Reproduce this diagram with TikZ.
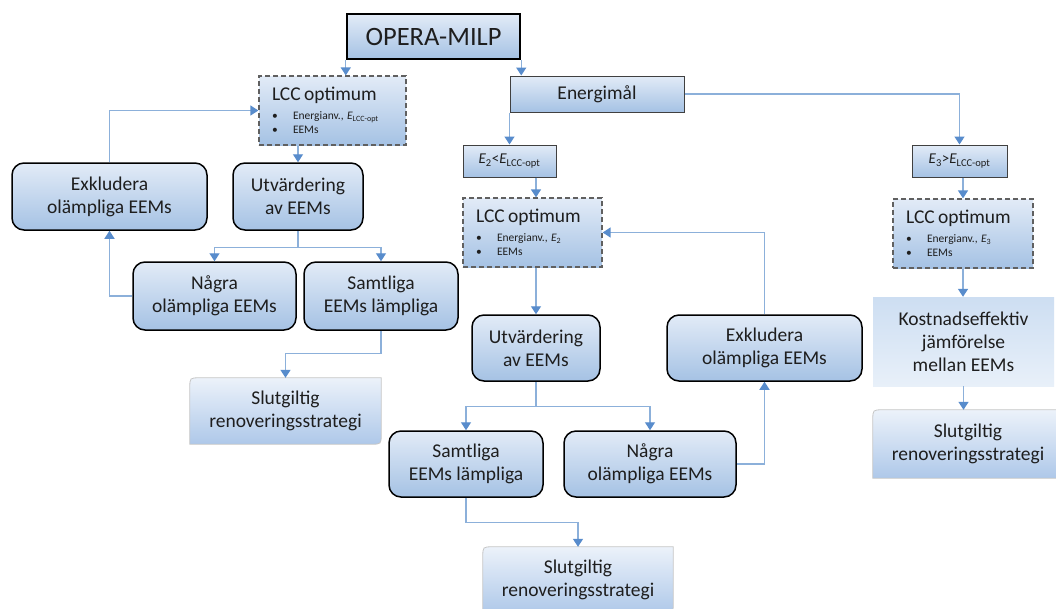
\documentclass[tikz,border=0pt]{standalone}
\usepackage{fontspec}
\setmainfont{Carlito}
\usetikzlibrary{arrows.meta}
\pgfdeclarelayer{background}
\pgfsetlayers{background,main}
\definecolor{txt}{RGB}{30,30,30}
\definecolor{fillTop}{RGB}{226,235,247}
\definecolor{fillBot}{RGB}{165,194,228}
\definecolor{slutTop}{RGB}{236,242,250}
\definecolor{slutBot}{RGB}{174,200,233}
\definecolor{kostTop}{RGB}{205,222,242}
\definecolor{kostBot}{RGB}{232,240,249}
\definecolor{lineblue}{RGB}{140,176,218}
\definecolor{tipblue}{RGB}{88,140,204}
\definecolor{frame}{RGB}{64,64,64}
\definecolor{dashframe}{RGB}{96,96,96}
\setlength{\parindent}{0pt}

\newcommand{\boxfont}{\fontsize{19.5}{23}\selectfont}
\newcommand{\lccitem}{\makebox[21pt][l]{\textbullet}}
\newcommand{\lccbody}[1]{%
  {\fontsize{19.5}{19.5}\selectfont LCC optimum\par}%
  {\fontsize{11.5}{19}\selectfont\lccitem Energianv., #1\par}%
  {\fontsize{11.5}{14}\selectfont\lccitem EEMs\par}}

\tikzset{
  base/.style={text=txt, inner sep=2pt, align=center, top color=fillTop, bottom color=fillBot},
  stepbox/.style={base, draw=black, line width=1.5pt, rounded corners=12pt, font=\boxfont},
  titlebox/.style={base, draw=black, line width=2.5pt, font=\fontsize{26.5}{30}\selectfont},
  condbox/.style={base, draw=frame, line width=1pt, font=\fontsize{15}{18}\selectfont},
  goalbox/.style={condbox, font=\boxfont},
  lccbox/.style={base, draw=dashframe, dash pattern=on 5pt off 3pt, line width=1.3pt,
                 align=left, inner xsep=13pt, inner ysep=0pt},
  slutbox/.style={text=txt, align=center, font=\boxfont, inner sep=2pt},
  kostbox/.style={text=txt, align=center, font=\boxfont, inner sep=2pt,
                  top color=kostTop, bottom color=kostBot},
  conn/.style={draw=lineblue, line width=1.4pt},
  arr/.style={conn, -{Triangle[width=10pt,length=8pt,color=tipblue]}},
}

\begin{document}
\begin{tikzpicture}[x=1pt,y=-1pt]
\useasboundingbox (0,0) rectangle (1056,608);
\clip (0,0) rectangle (1056,608);

% top
\node[titlebox, minimum width=173pt, minimum height=45pt] (opera) at (433.5,36.5) {OPERA-MILP};

% left branch: plain LCC optimum
\node[lccbox, text width=121pt, minimum height=69pt] (lcc1) at (332.5,110.5)
  {\lccbody{\textit{E}\textsubscript{LCC-opt}}};
\node[stepbox, minimum width=195pt, minimum height=67pt] (exk1) at (109.5,196.5) {Exkludera\\olämpliga EEMs};
\node[stepbox, minimum width=130pt, minimum height=67pt] (utv1) at (298,196.5) {Utvärdering\\av EEMs};
\node[stepbox, minimum width=163pt, minimum height=68pt] (nag1) at (214.5,296) {Några\\olämpliga EEMs};
\node[stepbox, minimum width=154pt, minimum height=68pt] (sam1) at (381,296) {Samtliga\\EEMs lämpliga};
\node[slutbox, minimum width=191pt, minimum height=66pt] (slut1) at (285.5,411) {Slutgiltig\\renoveringsstrategi};

% energy target
\node[goalbox, minimum width=174pt, minimum height=36pt] (energi) at (597,94) {Energimål};

% middle branch: E2 below the LCC optimum
\node[condbox, minimum width=93pt, minimum height=32pt] (e2) at (509.5,161)
  {\textit{E}\textsubscript{2}<\textit{E}\textsubscript{LCC-opt}};
\node[lccbox, text width=113pt, minimum height=69pt] (lcc2) at (532.5,232.5)
  {\lccbody{\textit{E}\textsubscript{2}}};
\node[stepbox, minimum width=128pt, minimum height=66pt] (utv2) at (536,348) {Utvärdering\\av EEMs};
\node[stepbox, minimum width=195pt, minimum height=66pt] (exk2) at (764.5,348) {Exkludera\\olämpliga EEMs};
\node[stepbox, minimum width=154pt, minimum height=66pt] (sam2) at (466,464) {Samtliga\\EEMs lämpliga};
\node[stepbox, minimum width=172pt, minimum height=66pt] (nag2) at (650,464) {Några\\olämpliga EEMs};
\node[slutbox, minimum width=190pt, minimum height=66pt] (slut2) at (578,580) {Slutgiltig\\renoveringsstrategi};

% right branch: E3 above the LCC optimum
\node[condbox, minimum width=95pt, minimum height=32pt] (e3) at (959.5,161)
  {\textit{E}\textsubscript{3}>\textit{E}\textsubscript{LCC-opt}};
\node[lccbox, text width=114pt, minimum height=69pt] (lcc3) at (963,233.5)
  {\lccbody{\textit{E}\textsubscript{3}}};
\node[kostbox, minimum width=181pt, minimum height=89pt] (kost) at (963.5,341.5)
  {Kostnadseffektiv\\jämförelse\\mellan EEMs};
\node[slutbox, minimum width=190pt, minimum height=68pt] (slut3) at (968,444) {Slutgiltig\\renoveringsstrategi};

% white page and the final-strategy boxes (rounded top-left and bottom-right corners)
\begin{pgfonlayer}{background}
\fill[white] (0,0) rectangle (1056,608);
\foreach \s in {slut1,slut2,slut3}{
  \path[top color=slutTop, bottom color=slutBot, draw=gray!45, line width=0.8pt]
   ([yshift=-10pt]\s.north west) .. controls (\s.north west) .. ([xshift=10pt]\s.north west)
   -- (\s.north east) -- ([yshift=10pt]\s.south east)
   .. controls (\s.south east) .. ([xshift=-10pt]\s.south east)
   -- (\s.south west) -- cycle;
}
\end{pgfonlayer}

% connectors
\draw[arr] (opera.south west) -- (opera.south west |- lcc1.north);
\draw[arr] (opera.south east) -- (opera.south east |- energi.north);

\draw[arr] (lcc1.south -| utv1.north) -- (utv1.north);
\draw[arr] (exk1.north) |- (lcc1.west);
\draw[conn] (utv1.south) -- ++(0,17) coordinate (fork1);
\draw[arr] (fork1) -| (nag1.north);
\draw[arr] (fork1) -| (sam1.north);
\draw[arr] (nag1.west) -| (exk1.south);
\draw[arr] (sam1.south) -- ++(0,23) -| (slut1.north);

\draw[arr] (energi.south west) -- (energi.south west |- e2.north);
\draw[arr] (energi.east) -| (e3.north);

\draw[arr] (e2.south -| utv2.north) -- (lcc2.north -| utv2.north);
\draw[arr] (lcc2.south -| utv2.north) -- (utv2.north);
\draw[conn] (utv2.south) -- ++(0,25) coordinate (fork2);
\draw[arr] (fork2) -| (sam2.north);
\draw[arr] (fork2) -| (nag2.north);
\draw[arr] (nag2.east) -| (exk2.south);
\draw[arr] (exk2.north) |- (lcc2.east);
\draw[arr] (sam2.south) -- ++(0,25) -| (slut2.north);

\draw[arr] (e3.south -| lcc3.north) -- (lcc3.north);
\draw[arr] (lcc3.south) -- (lcc3.south |- kost.north);
\draw[arr] (kost.south) -- (kost.south |- slut3.north);
\end{tikzpicture}
\end{document}
